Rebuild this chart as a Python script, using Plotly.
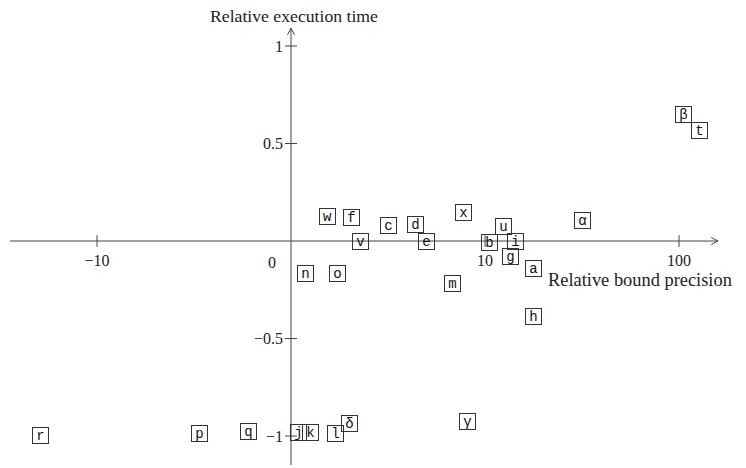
import math
import plotly.graph_objects as go

# ---- data ----
labels = ['a', 'b', 'c', 'd', 'e', 'f', 'g', 'h', 'i', 'j', 'k', 'l', 'm', 'n',
          'o', 'p', 'q', 'r', 't', 'u', 'v', 'w', 'x', 'α', 'β', 'γ', 'δ']
bound_precision = [17.7, 10.6, 5.0, 6.4, 7.0, 3.1, 13.6, 17.7, 14.4, 0.36, 0.98, 2.27, 8.3, 0.76,
                   2.37, -4.7, -2.2, -19.5, 128, 12.5, 3.6, 1.86, 8.9, 31.9, 106, 9.1, 3.0]
exec_time = [-0.142, -0.010, 0.078, 0.087, -0.004, 0.123, -0.080, -0.385, -0.004, -0.980, -0.980,
             -0.985, -0.220, -0.164, -0.169, -0.985, -0.978, -0.995, 0.569, 0.077, -0.004, 0.128,
             0.145, 0.104, 0.651, -0.928, -0.938]

x_tick_values = [-10, 10, 100]
x_tick_labels = ['−10', '10', '100']
y_tick_values = [1, 0.5, -0.5, -1]
y_tick_labels = ['1', '0.5', '−0.5', '−1']

LINTHRESH = 10.0


def symlog(v):
    """Symmetric log scale: linear inside [-10, 10], one decade per unit outside."""
    a = abs(v)
    if a <= LINTHRESH:
        return v / LINTHRESH
    return math.copysign(1 + math.log10(a / LINTHRESH), v)


tx = [symlog(v) for v in bound_precision]

fig = go.Figure()
fig.add_trace(go.Scatter(x=tx, y=exec_time, mode='markers',
                         marker=dict(size=1, opacity=0), hoverinfo='text',
                         text=labels, showlegend=False))

AX = '#444444'
serif = 'Liberation Serif'
mono = 'Liberation Mono'

# data-point boxes
for lab, xv, yv in zip(labels, tx, exec_time):
    fig.add_annotation(x=xv, y=yv, text=lab, showarrow=False,
                       font=dict(family=mono, size=14, color='#111111'),
                       width=15, height=15, borderpad=0,
                       bordercolor='#333333', borderwidth=1, bgcolor='rgba(255,255,255,0)',
                       xanchor='center', yanchor='middle')

# axis lines
x_lo, x_hi = -1.448, 2.201
y_lo, y_hi = -1.149, 1.092
fig.add_shape(type='line', x0=x_lo, x1=x_hi, y0=0, y1=0, line=dict(color=AX, width=1))
fig.add_shape(type='line', x0=0, x1=0, y0=y_lo, y1=y_hi, line=dict(color=AX, width=1))
# arrow heads
fig.add_shape(type='line', x0=x_hi - 0.035, x1=x_hi, y0=0.018, y1=0, line=dict(color=AX, width=1))
fig.add_shape(type='line', x0=x_hi - 0.035, x1=x_hi, y0=-0.018, y1=0, line=dict(color=AX, width=1))
fig.add_shape(type='line', x0=-0.018, x1=0, y0=y_hi - 0.035, y1=y_hi, line=dict(color=AX, width=1))
fig.add_shape(type='line', x0=0.018, x1=0, y0=y_hi - 0.035, y1=y_hi, line=dict(color=AX, width=1))

# tick marks crossing the axes
for v in x_tick_values:
    t = symlog(v)
    fig.add_shape(type='line', x0=t, x1=t, y0=-0.03, y1=0.03, line=dict(color=AX, width=1))
for v in y_tick_values:
    fig.add_shape(type='line', x0=-0.031, x1=0.031, y0=v, y1=v, line=dict(color=AX, width=1))

fig.add_annotation(x=0, y=0, text='0', showarrow=False, xshift=-19, yshift=-21,
                   font=dict(family=serif, size=16, color='#222222'))
fig.add_annotation(x=294 / 746, y=1 - 16 / 468, xref='paper', yref='paper',
                   xanchor='center', yanchor='middle',
                   text='Relative execution time', showarrow=False,
                   font=dict(family=serif, size=17.7, color='#222222'))
fig.add_annotation(x=640 / 746, y=1 - 280 / 468, xref='paper', yref='paper',
                   xanchor='center', yanchor='middle',
                   text='Relative bound precision', showarrow=False,
                   font=dict(family=serif, size=18.4, color='#222222'))

X_RANGE = [-1.5, 2.345]
Y_RANGE = [-1.164, 1.236]

fig.update_layout(
    width=746, height=468,
    margin=dict(l=0, r=0, t=0, b=0),
    paper_bgcolor='white', plot_bgcolor='white',
    showlegend=False,
    xaxis=dict(range=X_RANGE, showgrid=False, zeroline=False, showline=False,
               tickvals=[symlog(v) for v in x_tick_values], ticktext=x_tick_labels,
               ticks='', anchor='free', position=(468 - 241) / 468,
               ticklabelstandoff=8,
               tickfont=dict(family=serif, size=16, color='#222222')),
    yaxis=dict(range=Y_RANGE, showgrid=False, zeroline=False, showline=False,
               tickvals=y_tick_values, ticktext=y_tick_labels,
               ticks='', anchor='free', position=291 / 746,
               ticklabelstandoff=8,
               tickfont=dict(family=serif, size=16, color='#222222')),
)

fig.write_html('out.html', config={'displayModeBar': False},
               post_script="document.body.style.margin='0';document.body.style.padding='0';")
